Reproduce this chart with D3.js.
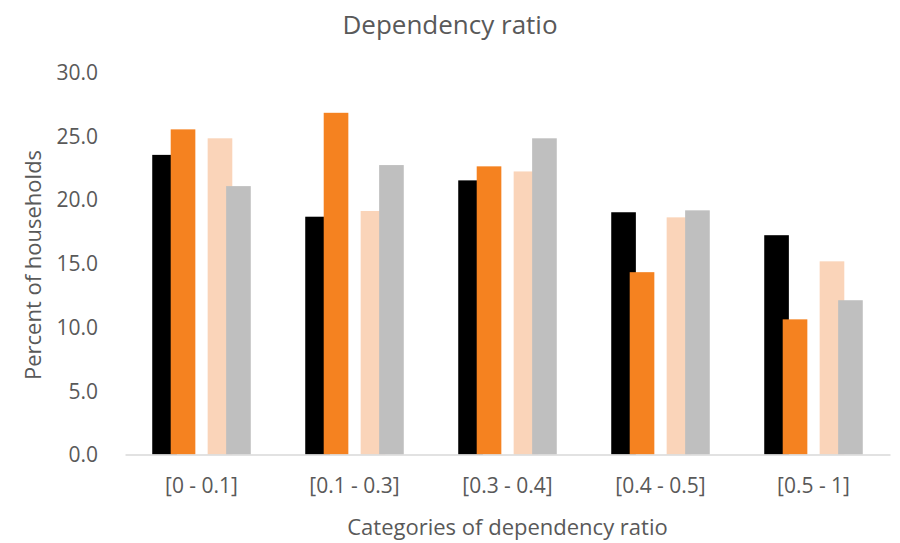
<!DOCTYPE html>
<html>
<head>
<meta charset="utf-8">
<script src="https://cdnjs.cloudflare.com/ajax/libs/d3/7.8.5/d3.min.js"></script>
<style>
  body { margin: 0; background: #fff; }
  text { font-family: "Open Sans", sans-serif; fill: #595959; }
</style>
</head>
<body>
<svg width="900" height="543"></svg>
<script>
// categories and series
var categories = ["[0 - 0.1]", "[0.1 - 0.3]", "[0.3 - 0.4]", "[0.4 - 0.5]", "[0.5 - 1]"];
var series1 = [23.5, 18.65, 21.5, 19.0, 17.2];
var series2 = [25.5, 26.8, 22.6, 14.3, 10.6];
var series3 = [24.8, 19.1, 22.2, 18.6, 15.15];
var series4 = [21.05, 22.7, 24.8, 19.15, 12.1];
var yTicks = [0, 5, 10, 15, 20, 25, 30];

var allSeries = [
  {values: series1, slot: 0, color: "#000000"},
  {values: series2, slot: 1, color: "#F58220"},
  {values: series3, slot: 3, color: "#FAD4B9"},   // slot 2 is an empty series in the original
  {values: series4, slot: 4, color: "#BFBFBF"}
];

var svg = d3.select("svg"),
    width = +svg.attr("width"),
    height = +svg.attr("height");

var margin = {left: 125, right: 10, top: 72, bottom: 88.5};

var x = d3.scaleBand()
    .domain(categories)
    .range([margin.left, width - margin.right]);

var y = d3.scaleLinear()
    .domain([0, 30])
    .range([height - margin.bottom, margin.top]);

// inner slots: 5 slots, overlapping bars
var barW = x.bandwidth() * 0.161;
var step = barW * 0.75;
var slotStart = (x.bandwidth() - (4 * step + barW)) / 2;
var xs = d3.scaleLinear().domain([0, 1]).range([slotStart, slotStart + step]);

// title
svg.append("text")
    .attr("x", width / 2)
    .attr("y", 34)
    .attr("text-anchor", "middle")
    .style("font-size", "26px")
    .text("Dependency ratio");

// y axis (labels only)
var yAxis = svg.append("g")
    .attr("transform", "translate(" + (margin.left - 24) + ",0)")
    .call(d3.axisLeft(y).tickValues(yTicks).tickFormat(d3.format(".1f")).tickSize(0));
yAxis.select(".domain").remove();
yAxis.selectAll("text").style("font-size", "21px").attr("dy", "0.35em");

// bars
allSeries.forEach(function(s) {
  svg.append("g")
    .selectAll("rect")
    .data(s.values)
    .enter().append("rect")
      .attr("x", function(d, i) { return x(categories[i]) + xs(s.slot); })
      .attr("y", function(d) { return y(d); })
      .attr("width", barW)
      .attr("height", function(d) { return y(0) - y(d); })
      .attr("fill", s.color);
});

// x axis
var xAxis = svg.append("g")
    .attr("transform", "translate(0," + y(0) + ")")
    .call(d3.axisBottom(x).tickSize(0).tickPadding(24));
xAxis.select(".domain").attr("stroke", "#D9D9D9").attr("stroke-width", 1.5);
xAxis.selectAll("text").style("font-size", "21px");

// axis titles
svg.append("text")
    .attr("x", (margin.left + width - margin.right) / 2)
    .attr("y", 535)
    .attr("text-anchor", "middle")
    .style("font-size", "22px")
    .text("Categories of dependency ratio");

svg.append("text")
    .attr("transform", "translate(41," + 265 + ") rotate(-90)")
    .attr("text-anchor", "middle")
    .style("font-size", "22px")
    .text("Percent of households");
</script>
</body>
</html>
